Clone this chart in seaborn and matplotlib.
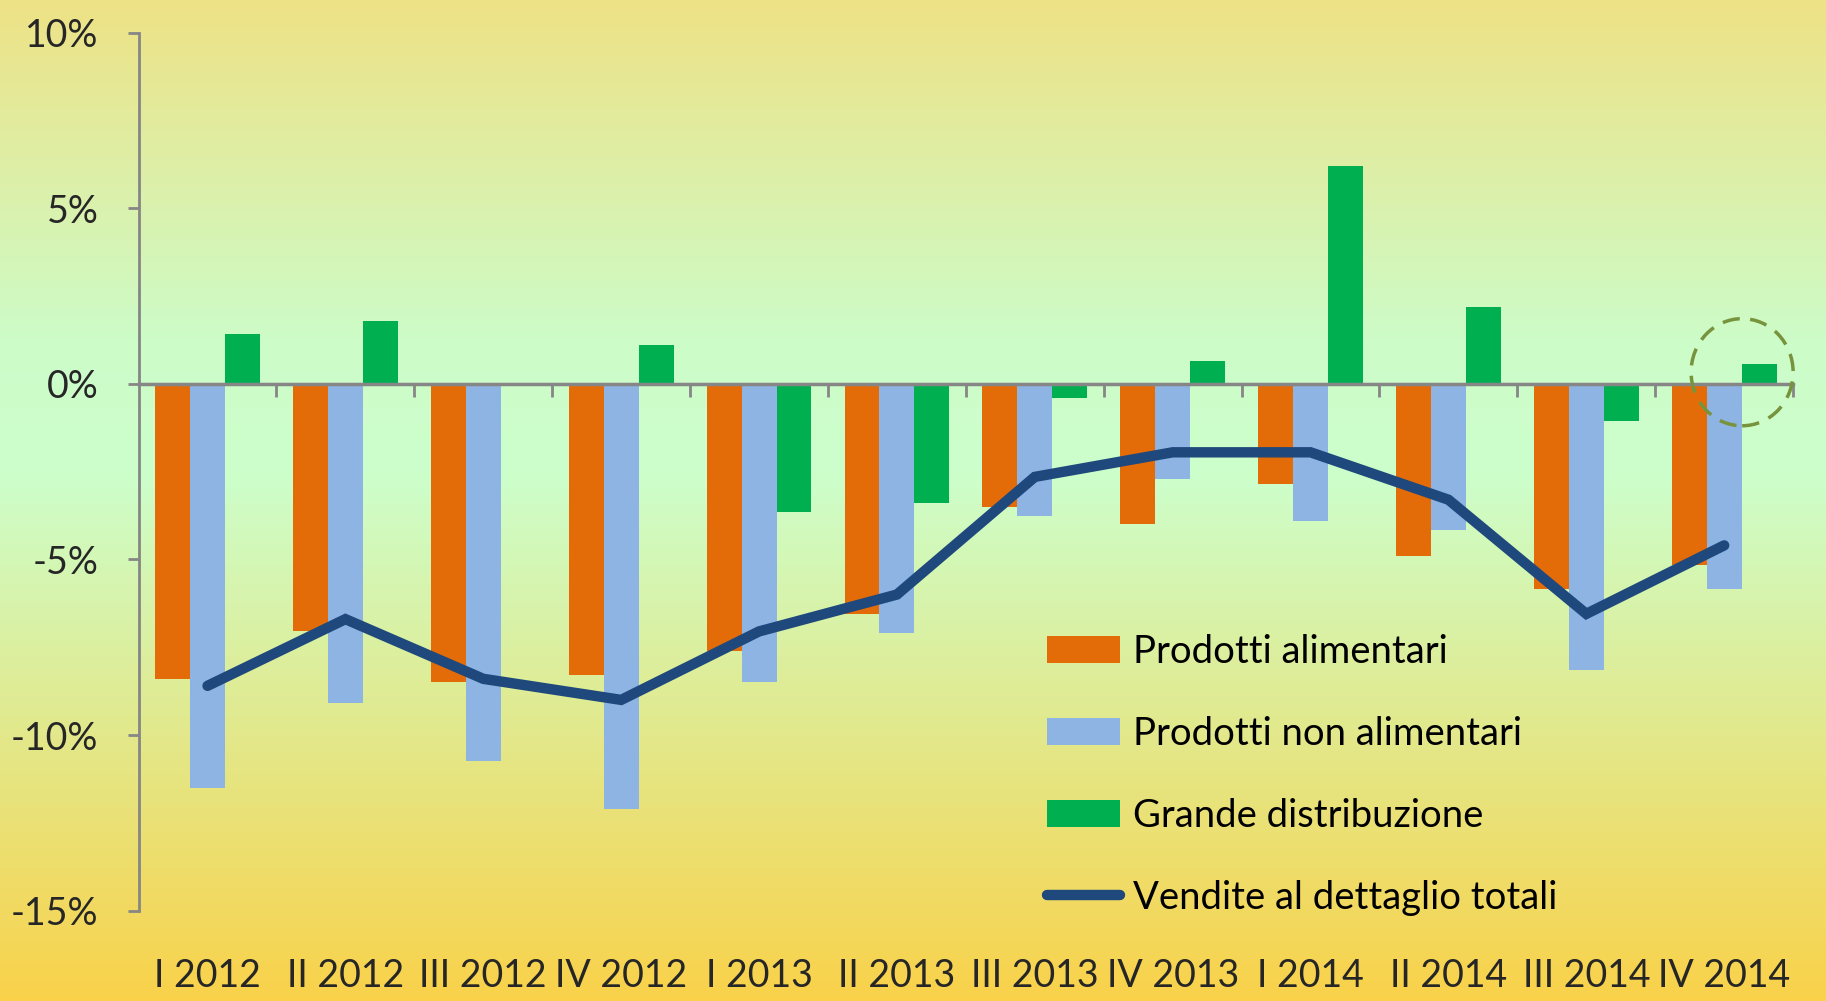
import numpy as np
import pandas as pd
import matplotlib
matplotlib.use('Agg')
import matplotlib.pyplot as plt
from matplotlib.colors import LinearSegmentedColormap
from matplotlib.patches import Ellipse
import seaborn as sns

sns.set_theme(style='white')
plt.rcParams['font.family'] = ['Lato', 'DejaVu Sans']

# data (% change)
quarters = ["I 2012", "II 2012", "III 2012", "IV 2012",
            "I 2013", "II 2013", "III 2013", "IV 2013",
            "I 2014", "II 2014", "III 2014", "IV 2014"]
alimentari = [-8.4, -7.05, -8.5, -8.3, -7.6, -6.55, -3.5, -4.0, -2.85, -4.9, -5.85, -5.15]
non_alimentari = [-11.5, -9.1, -10.75, -12.1, -8.5, -7.1, -3.75, -2.7, -3.9, -4.15, -8.15, -5.85]
grande_distr = [1.42, 1.8, 0.0, 1.1, -3.65, -3.4, -0.4, 0.65, 6.2, 2.2, -1.05, 0.57]
vendite_totali = [-8.6, -6.7, -8.4, -9.0, -7.05, -6.0, -2.65, -1.95, -1.95, -3.3, -6.55, -4.6]

series_names = ["Prodotti alimentari", "Prodotti non alimentari", "Grande distribuzione"]
line_name = "Vendite al dettaglio totali"
y_ticks = [-15, -10, -5, 0, 5, 10]

colors = {"Prodotti alimentari": "#E36C09",
          "Prodotti non alimentari": "#8EB4E3",
          "Grande distribuzione": "#00B050"}
line_color = "#1F497D"
grey = "#868686"

df = pd.DataFrame({"quarter": quarters,
                   series_names[0]: alimentari,
                   series_names[1]: non_alimentari,
                   series_names[2]: grande_distr})
df_long = df.melt(id_vars="quarter", var_name="serie", value_name="valore")

fig = plt.figure(figsize=(18.26, 10.01), dpi=100)

# gradient background
bg = fig.add_axes([0, 0, 1, 1], zorder=-5)
cmap = LinearSegmentedColormap.from_list(
    "bg", [(0.0, "#EEE286"), (0.34, "#CDFCC8"), (0.47, "#CCFFCC"), (1.0, "#F9D24A")])
bg.imshow(np.linspace(0, 1, 256).reshape(-1, 1), cmap=cmap, aspect='auto',
          extent=[0, 1, 0, 1], origin='upper')
bg.axis('off')

ax = fig.add_axes([0.0759, 0.0903, 0.9061, 0.8771])
ax.set_facecolor('none')

sns.barplot(data=df_long, x="quarter", y="valore", hue="serie",
            hue_order=series_names, palette=colors, order=quarters,
            width=0.76, saturation=1, linewidth=0, ax=ax, zorder=2)
sns.lineplot(x=np.arange(len(quarters)), y=vendite_totali, color=line_color,
             lw=7.5, label=line_name, ax=ax, zorder=4,
             solid_capstyle='round', solid_joinstyle='miter')

ax.set_xlim(-0.5, len(quarters) - 0.5)
ax.set_ylim(-15, 10)
ax.set_xlabel("")
ax.set_ylabel("")

# y axis
ax.set_yticks(y_ticks)
ax.set_yticklabels([f"{v}%" for v in y_ticks], fontsize=27)
for s in ['top', 'right']:
    ax.spines[s].set_visible(False)
ax.spines['left'].set_color(grey)
ax.spines['left'].set_linewidth(2)
ax.tick_params(axis='y', direction='out', length=8, width=2, color=grey, pad=21, left=True)

# x axis at zero with category boundary ticks
ax.spines['bottom'].set_position(('data', 0))
ax.spines['bottom'].set_color(grey)
ax.spines['bottom'].set_linewidth(2.5)
ax.spines['bottom'].set_zorder(3)
ax.set_xticks(np.arange(len(quarters)) + 0.5, minor=True)
ax.set_xticks([])
ax.tick_params(axis='x', which='minor', direction='out', length=9, width=2,
               color=grey, bottom=True)

# category labels at the bottom
sec = ax.secondary_xaxis(0)
sec.set_xticks(np.arange(len(quarters)))
sec.set_xticklabels(quarters, fontsize=27)
sec.tick_params(length=0, pad=34)
sec.spines['bottom'].set_visible(False)

# highlight on last quarter
last = len(quarters) - 1
ell = Ellipse((last + 0.13, grande_distr[last] * 0.58), width=0.74, height=3.05,
              fill=False, ec="#77933C", lw=2.5, ls=(0, (5, 3)), clip_on=False, zorder=5)
ax.add_patch(ell)

handles, labels = ax.get_legend_handles_labels()
order = [labels.index(n) for n in series_names + [line_name]]
leg = ax.legend([handles[i] for i in order], [labels[i] for i in order],
                loc='upper left', bbox_to_anchor=(0.549, 0.315), frameon=False,
                fontsize=27.5, handlelength=1.9, handleheight=0.72, handletextpad=0.36,
                labelspacing=1.2, borderpad=0, borderaxespad=0)
for t in leg.get_texts():
    t.set_color('black')

fig.savefig('out.png', dpi=100)
